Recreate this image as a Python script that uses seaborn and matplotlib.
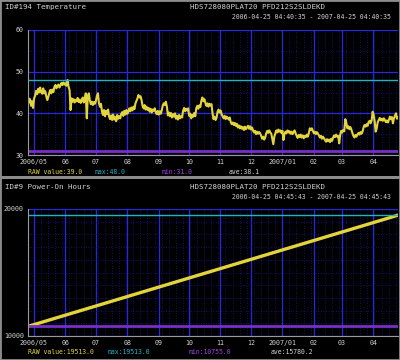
import pandas as pd
import seaborn as sns
import matplotlib.pyplot as plt
import matplotlib.dates as mdates
from matplotlib.ticker import FuncFormatter, MultipleLocator, FixedLocator
from matplotlib.patches import Rectangle

# -----------------------------
# Data
# -----------------------------
drive_model = 'HDS728080PLAT20 PFD212S2SLDEKD'

# ID#194 Temperature, one reading per day from 2006-04-25
temp_start = '2006-04-25 04:40:35'
temp_end = '2007-04-25 04:40:35'
temp_values = [
    44.0, 42.6, 43.4, 41.8, 42.9, 41.3, 43.6, 44.2, 45.4, 44.6,
    45.9, 45.0, 46.2, 45.1, 44.7, 46.0, 44.8, 45.3, 44.1, 43.2,
    43.9, 44.9, 45.6, 44.8, 45.7, 45.1, 46.3, 46.8, 46.0, 46.6,
    46.9, 46.2, 46.7, 47.3, 46.8, 47.4, 46.9, 47.2, 46.6, 48.0,
    46.4, 45.6, 40.8, 43.6, 42.8, 43.4, 42.6, 43.2, 42.9, 43.7,
    42.7, 43.3, 42.5, 43.1, 43.8, 42.6, 43.4, 44.8, 38.8, 44.2,
    44.8, 43.1, 42.2, 42.8, 42.0, 42.7, 42.3, 43.0, 44.2, 44.8,
    42.4, 41.6, 42.3, 40.4, 39.6, 40.8, 39.3, 40.6, 39.8, 40.9,
    39.2, 38.6, 39.5, 38.4, 39.7, 38.5, 39.1, 38.1, 39.6, 38.7,
    39.3, 38.8, 39.9, 40.3, 39.4, 40.6, 39.7, 40.8, 39.9, 40.4,
    41.2, 40.5, 41.4, 40.7, 41.6, 41.0, 42.4, 43.0, 43.6, 44.4,
    43.8, 44.1, 43.2, 41.8, 41.2, 42.0, 40.9, 41.6, 40.8, 41.3,
    40.4, 41.1, 40.2, 40.9, 40.6, 41.2, 40.3, 39.8, 40.6, 39.7,
    40.5, 39.9, 40.8, 41.9, 42.4, 42.0, 42.8, 41.6, 39.5, 40.2,
    39.3, 40.1, 39.0, 39.8, 39.2, 40.0, 38.7, 39.4, 38.5, 39.6,
    38.8, 39.3, 39.0, 40.6, 41.3, 40.5, 41.1, 40.7, 41.2, 39.4,
    39.9, 38.8, 39.6, 39.2, 40.1, 39.3, 41.2, 41.8, 41.1, 41.9,
    41.5, 43.0, 43.8, 42.9, 43.4, 42.5, 41.8, 42.4, 41.6, 42.3,
    41.9, 42.2, 40.1, 38.6, 39.2, 38.4, 38.9, 40.4, 40.9, 40.2,
    40.7, 39.8, 39.3, 38.8, 39.4, 38.6, 39.2, 38.9, 38.5, 39.0,
    37.9, 37.4, 37.8, 37.2, 37.7, 37.0, 37.5, 36.6, 37.1, 36.4,
    36.9, 36.3, 36.7, 36.0, 36.8, 36.2, 36.6, 37.0, 36.3, 36.9,
    36.1, 36.6, 35.9, 35.4, 35.8, 35.0, 35.6, 35.1, 35.5, 35.2,
    34.6, 33.9, 34.4, 33.7, 34.2, 35.2, 35.8, 35.3, 35.9, 35.4,
    35.1, 33.8, 32.6, 34.4, 35.2, 35.9, 35.4, 36.1, 35.6, 35.9,
    35.3, 35.8, 33.6, 35.0, 35.6, 35.2, 35.9, 35.4, 35.7, 35.1,
    35.6, 35.0, 35.5, 35.9, 35.2, 34.6, 34.1, 34.8, 34.3, 34.9,
    34.2, 34.7, 34.0, 34.6, 34.3, 34.9, 34.4, 35.2, 36.4, 36.0,
    36.4, 35.8, 35.2, 35.6, 35.0, 35.5, 35.1, 34.7, 34.2, 34.6,
    33.9, 34.4, 34.0, 33.6, 33.2, 33.8, 33.3, 33.7, 33.1, 33.9,
    33.4, 34.2, 34.7, 34.3, 34.9, 34.4, 34.6, 32.8, 34.9, 35.8,
    35.4, 36.0, 35.7, 38.6, 37.8, 36.4, 36.9, 36.2, 36.7, 36.1,
    35.3, 34.6, 34.2, 34.8, 34.4, 34.9, 35.3, 34.9, 35.5, 35.1,
    35.6, 36.6, 37.2, 36.8, 37.4, 37.0, 37.9, 38.2, 37.6, 38.3,
    40.4, 39.6, 38.1, 35.6, 36.4, 37.9, 38.4, 38.9, 38.3, 38.7,
    38.2, 38.8, 38.4, 37.9, 38.3, 37.8, 38.4, 39.2, 38.6, 39.1,
    37.6, 38.8, 39.4, 40.0, 38.7, 39.1,
]
temp_raw, temp_max, temp_min, temp_ave = 39.0, 48.0, 31.0, 38.1

# ID#9 Power-On Hours
hours_start = '2006-04-25 04:45:43'
hours_end = '2007-04-25 04:45:43'
hours_times = [hours_start, hours_end]
hours_values = [10755.0, 19513.0]
hours_raw, hours_max, hours_min, hours_ave = 19513.0, 19513.0, 10755.0, 15780.2

# -----------------------------
# Style
# -----------------------------
sns.set_style('dark')
plt.rcParams['font.family'] = ['DejaVu Sans Mono']

BG = 'black'
TXT = '#d0d0d0'
YELLOW = '#e2d43a'
CYAN = '#1cb4c8'
PURPLE = '#7a2ec8'
BLUE = '#2828e0'
W, H = 400, 360


def fx(x):
    return x / W


def fy(y):
    return 1 - y / H


def month_label(ax):
    def fmt(x, pos):
        d = mdates.num2date(x)
        if d.month == 1 or x - ax.get_xlim()[0] < 31:
            return d.strftime('%Y/%m')
        return d.strftime('%m')
    return FuncFormatter(fmt)


def style_axes(ax, start, end):
    ax.set_facecolor(BG)
    ax.set_xlim(pd.Timestamp(start), pd.Timestamp(end))
    ax.xaxis.set_major_locator(mdates.MonthLocator())
    ax.xaxis.set_minor_locator(mdates.WeekdayLocator(byweekday=mdates.MO))
    ax.xaxis.set_major_formatter(month_label(ax))
    ax.grid(True, which='major', color=BLUE, lw=0.9, ls='-')
    ax.grid(True, which='minor', color='#18188c', lw=0.6, ls=(0, (1, 2)))
    for side in ['top', 'right']:
        ax.spines[side].set_visible(False)
    for side in ['left', 'bottom']:
        ax.spines[side].set_color('#9a9a9a')
        ax.spines[side].set_linewidth(0.8)
    ax.tick_params(which='major', labelsize=4.8, colors=TXT, length=2, width=0.6, pad=1)
    ax.tick_params(which='minor', length=0)
    ax.set_xlabel('')
    ax.set_ylabel('')
    ax.set_axisbelow(True)


fig = plt.figure(figsize=(W / 100, H / 100), dpi=100, facecolor=BG)

# -----------------------------
# Panel 1: Temperature
# -----------------------------
temp_df = pd.DataFrame({
    'time': pd.date_range(temp_start, periods=len(temp_values), freq='D'),
    'value': temp_values,
})
ax1 = fig.add_axes([fx(28), fy(155), fx(370), 125 / H])
sns.lineplot(data=temp_df, x='time', y='value', ax=ax1, color=YELLOW, linewidth=1.5)
ax1.axhline(temp_max, color=CYAN, lw=1)
ax1.axhline(temp_min, color=PURPLE, lw=2)
ax1.set_ylim(30, 60)
ax1.yaxis.set_major_locator(MultipleLocator(10))
ax1.yaxis.set_minor_locator(MultipleLocator(5))
style_axes(ax1, temp_start, temp_end)

# -----------------------------
# Panel 2: Power-On Hours
# -----------------------------
hours_df = pd.DataFrame({'time': pd.to_datetime(hours_times), 'value': hours_values})
ax2 = fig.add_axes([fx(28), fy(336), fx(370), 127 / H])
sns.lineplot(data=hours_df, x='time', y='value', ax=ax2, color=YELLOW, linewidth=2.4)
ax2.axhline(hours_max, color=CYAN, lw=1)
ax2.axhline(hours_min, color=PURPLE, lw=2)
ax2.set_ylim(10000, 20000)
ax2.yaxis.set_major_locator(FixedLocator([10000, 20000]))
ax2.yaxis.set_minor_locator(MultipleLocator(1000))
style_axes(ax2, hours_start, hours_end)

# -----------------------------
# Headers and legends
# -----------------------------
def header(y0, title, start, end):
    fig.text(fx(5), fy(y0), title, color=TXT, fontsize=5.4, va='center')
    fig.text(fx(190), fy(y0), drive_model, color=TXT, fontsize=5.4, va='center')
    fig.text(fx(391), fy(y0 + 10), f'{start} - {end}',
             color=TXT, fontsize=4.7, va='center', ha='right')


def legend(y0, xs, raw, vmax, vmin, vave):
    parts = [(f'RAW value:{raw:.1f}', YELLOW), (f'max:{vmax:.1f}', CYAN),
             (f'min:{vmin:.1f}', '#a040e8'), (f'ave:{vave:.1f}', TXT)]
    for x, (s, c) in zip(xs, parts):
        fig.text(fx(x), fy(y0), s, color=c, fontsize=4.7, va='center')


header(7, 'ID#194 Temperature', temp_start, temp_end)
legend(172, [28, 95, 162, 229], temp_raw, temp_max, temp_min, temp_ave)
header(187, 'ID#9 Power-On Hours', hours_start, hours_end)
legend(352, [28, 108, 189, 271], hours_raw, hours_max, hours_min, hours_ave)

# frame and separator
fig.add_artist(Rectangle((0, 0), 1, 1, transform=fig.transFigure, fill=False,
                         edgecolor='#8c8c8c', lw=2))
fig.add_artist(Rectangle((0, fy(179)), 1, 3 / H, transform=fig.transFigure,
                         color='#8c8c8c', lw=0))

fig.savefig('out.png', dpi=100, facecolor=BG)
